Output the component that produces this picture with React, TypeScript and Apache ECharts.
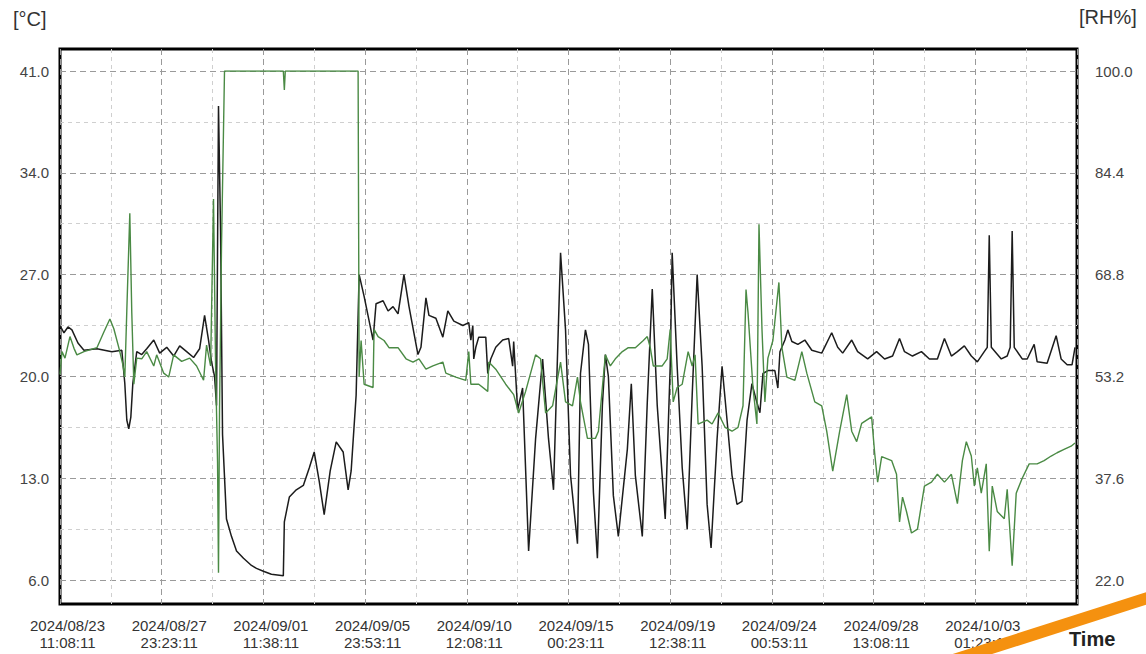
import React, { useEffect, useRef } from "react";
import * as echarts from "echarts";

// ---- data (hours elapsed since 2024/08/23 11:08:11) ----
const xTickLabels = [
  "2024/08/23\n11:08:11",
  "2024/08/27\n23:23:11",
  "2024/09/01\n11:38:11",
  "2024/09/05\n23:53:11",
  "2024/09/10\n12:08:11",
  "2024/09/15\n00:23:11",
  "2024/09/19\n12:38:11",
  "2024/09/24\n00:53:11",
  "2024/09/28\n13:08:11",
  "2024/10/03\n01:23:11",
];
const tempTicks = [6, 13, 20, 27, 34, 41];
const rhTicks = [22, 37.6, 53.2, 68.8, 84.4, 100];

const tempHours = [
  0, 4.2, 8.5, 12.7, 19.1, 25.5, 39.3, 55.2, 65.8, 69.0, 71.1, 73.2, 75.4, 77.5, 81.7, 87.0,
  92.3, 99.8, 106.1, 113.6, 121.0, 127.4, 134.8, 142.2, 148.6, 153.9, 158.1, 161.3, 164.5,
  166.6, 168.7, 170.9, 173.0, 177.2, 182.5, 187.9, 195.3, 203.8, 209.1, 216.5, 225.0, 237.7,
  238.8, 244.1, 251.5, 259.0, 265.3, 270.6, 275.9, 281.2, 287.6, 294.0, 301.4, 306.7, 309.9,
  315.2, 318.4, 323.7, 333.2, 336.4, 343.9, 349.2, 354.5, 359.8, 366.1, 371.5, 381.0, 384.2,
  389.5, 392.7, 400.1, 407.5, 412.8, 419.2, 428.8, 435.1, 437.3, 439.4, 440.4, 442.6, 445.7,
  453.2, 455.3, 458.5, 463.8, 471.2, 477.6, 481.8, 482.9, 487.1, 492.4, 498.8, 506.2, 513.7,
  520.0, 525.3, 532.8, 538.1, 543.4, 550.8, 554.0, 559.3, 562.5, 567.8, 572.0, 577.3, 580.5,
  583.7, 589.0, 594.3, 603.9, 608.1, 612.4, 619.8, 625.1, 630.4, 635.7, 644.2, 649.5, 651.6,
  656.9, 662.3, 667.6, 672.9, 678.2, 683.5, 688.8, 693.0, 699.4, 704.7, 710.0, 715.3, 720.6,
  725.9, 731.3, 736.5, 741.8, 745.0, 748.2, 753.5, 760.9, 764.1, 766.3, 771.6, 774.7, 779.0,
  785.4, 792.8, 800.2, 810.8, 821.4, 827.8, 833.1, 842.7, 849.0, 859.7, 869.2, 877.7, 886.2,
  893.6, 898.9, 907.4, 916.9, 925.4, 933.9, 941.4, 948.8, 955.2, 962.6, 970.0, 976.4, 983.8,
  987.0, 989.1, 991.3, 1001.9, 1008.2, 1011.4, 1013.5, 1015.7, 1024.2, 1029.5, 1036.9, 1040.1,
  1050.7, 1060.3, 1065.6, 1072.0, 1077.2, 1080.4,
];
const tempValues = [
  23.5, 23.0, 23.4, 23.2, 22.3, 21.8, 21.9, 21.7, 21.8, 19.5, 17.0, 16.4, 17.2, 19.5, 21.7, 21.5,
  21.9, 22.5, 21.6, 22.0, 21.4, 22.1, 21.7, 21.3, 21.9, 24.2, 22.5, 21.0, 20.0,
  18.0, 38.6, 30.0, 16.0, 10.2, 9.0, 8.0, 7.5, 7.0, 6.8, 6.6, 6.4, 6.3,
  10.0, 11.7, 12.2, 12.5, 13.7, 14.8, 12.8, 10.5, 13.5, 15.5, 14.8, 12.2, 13.5,
  18.7, 27.0, 25.5, 22.5, 25.0, 25.2, 24.5, 24.8, 24.3, 27.0, 24.8, 21.5, 22.0,
  25.4, 24.2, 24.0, 22.7, 24.5, 23.8, 23.5, 23.7, 22.5, 23.5, 21.2, 22.0, 22.7,
  22.7, 20.2, 21.2, 22.0, 22.5, 22.6, 20.7, 22.4, 17.7, 19.2, 8.0, 15.7, 21.2,
  15.7, 12.2, 28.5, 23.2, 13.2, 8.5, 20.2, 23.2, 22.2, 12.0, 7.5, 18.0, 21.5,
  20.0, 11.8, 9.0, 15.0, 19.5, 13.2, 9.0, 18.2, 26.0, 18.0, 10.2, 20.7, 28.5,
  20.7, 13.7, 9.5, 18.7, 27.0, 20.7, 11.2, 8.2, 15.7, 20.7, 17.0, 13.2, 11.2,
  11.4, 17.0, 19.5, 18.2, 17.5, 20.2, 20.4, 20.4, 19.2, 21.7, 22.5, 23.2, 22.4,
  22.2, 22.5, 21.8, 21.6, 23.0, 22.0, 21.6, 22.5, 21.7, 21.2, 21.7, 21.2, 21.4,
  22.6, 21.7, 21.4, 21.7, 21.2, 21.2, 22.6, 21.4, 21.7, 22.1, 21.4, 21.0, 21.7,
  22.0, 29.7, 22.0, 21.2, 21.4, 22.0, 30.0, 22.0, 21.2, 21.2, 22.2, 21.0,
  20.9, 22.8, 21.2, 20.8, 20.8, 22.0,
];

const rhHours = [
  0, 2.1, 5.3, 10.6, 14.9, 18.0, 25.5, 39.3, 46.7, 53.1, 57.3, 62.6, 66.9, 69.0, 71.1, 74.3,
  76.4, 78.6, 81.7, 87.0, 92.3, 99.8, 102.9, 110.4, 115.7, 121.0, 129.5, 138.0, 145.4, 152.8,
  156.0, 160.3, 163.4, 165.6, 167.7, 168.7, 169.8, 171.9, 175.1, 237.7, 238.8, 239.8, 317.3,
  318.4, 320.5, 323.7, 333.2, 334.3, 338.6, 344.9, 350.2, 359.8, 368.3, 375.7, 382.1, 389.5,
  396.9, 407.5, 410.7, 421.3, 431.9, 435.1, 437.3, 445.7, 455.3, 456.4, 463.8, 474.4, 482.9,
  488.2, 495.6, 506.2, 511.5, 516.9, 524.3, 532.8, 538.1, 545.5, 550.8, 554.0, 561.4, 569.9,
  573.1, 577.3, 580.5, 585.8, 591.1, 598.6, 604.9, 612.4, 620.9, 625.1, 628.3, 631.5, 641.0,
  646.3, 649.5, 652.7, 656.9, 662.3, 668.6, 672.9, 676.0, 679.2, 688.8, 694.1, 700.5, 707.9,
  715.3, 721.7, 727.0, 730.2, 732.3, 737.6, 741.8, 744.0, 747.2, 750.3, 753.5, 758.8, 765.2,
  768.4, 773.7, 782.2, 789.6, 794.9, 803.4, 810.8, 816.1, 822.5, 829.9, 837.4, 842.7, 848.0,
  853.3, 863.9, 867.1, 870.3, 874.6, 885.2, 890.4, 893.6, 896.8, 901.0, 906.3, 912.7, 920.1,
  927.6, 933.9, 941.4, 948.8, 955.2, 960.5, 964.7, 970.0, 973.2, 976.4, 980.6, 985.9, 989.1,
  992.3, 997.6, 1005.1, 1008.2, 1013.5, 1017.8, 1024.2, 1031.6, 1040.1, 1047.5, 1055.0,
  1061.3, 1068.7, 1076.2, 1080.4,
];
const rhValues = [
  53.5, 57.0, 56.0, 59.3, 57.5, 56.5, 57.0, 57.6, 60.0, 62.0, 60.5, 57.6, 55.0, 53.1, 63.2, 78.2,
  63.0, 52.0, 56.0, 55.9, 57.0, 54.8, 56.5, 53.7, 53.1, 56.5, 55.5, 56.0, 54.8, 52.6,
  58.0, 54.8, 80.4, 55.0, 40.0, 23.1, 48.0, 73.0, 100, 100, 97.1, 100, 100,
  53.1, 58.7, 52.0, 51.5, 60.4, 59.3, 58.7, 57.6, 57.6, 55.9, 55.4, 55.9, 54.3,
  54.8, 55.4, 53.7, 53.1, 52.6, 57.0, 52.0, 52.0, 50.9, 55.4, 54.3, 52.0, 50.4,
  47.6, 50.9, 56.5, 55.9, 47.6, 48.7, 55.4, 49.3, 48.7, 53.1, 49.3, 43.7, 43.7,
  44.8, 51.5, 56.5, 54.8, 55.9, 57.0, 57.6, 57.6, 58.7, 59.3, 57.6, 54.8, 54.8,
  55.9, 60.4, 49.3, 51.5, 52.0, 57.0, 54.8, 56.5, 45.9, 46.5, 45.9, 47.6, 45.4,
  44.8, 45.4, 48.7, 66.5, 63.0, 51.5, 45.9, 76.5, 60.4, 49.3, 56.0, 58.7, 67.6,
  57.6, 53.1, 52.6, 57.0, 53.7, 49.3, 48.7, 44.8, 38.7, 44.8, 50.4, 44.8, 43.2,
  46.0, 47.0, 41.5, 37.0, 40.9, 40.3, 38.2, 30.9, 34.7, 32.5, 29.2, 29.8, 36.4,
  37.0, 38.2, 37.0, 38.2, 33.7, 40.3, 43.2, 41.0, 36.4, 39.2, 35.3, 39.8, 26.4,
  36.4, 32.5, 31.4, 35.9, 24.2, 35.3, 37.6, 39.8, 39.8, 40.3, 41.0,
  41.5, 42.0, 42.5, 43.0,
];

const X_STEP = 108.25;
const X_MAX = 1082.5;
const FONT = "'Liberation Sans', Arial, sans-serif";

export default function App() {
  const ref = useRef<HTMLDivElement>(null);

  useEffect(() => {
    if (!ref.current) return;
    const chart = echarts.init(ref.current, null, { renderer: "svg" });
    const tempData = tempHours.map((h, i) => [h, tempValues[i]]);
    const rhData = rhHours.map((h, i) => [h, rhValues[i]]);

    chart.setOption({
      animation: false,
      backgroundColor: "#ffffff",
      grid: [
        {
          left: 60,
          top: 49,
          width: 1017,
          height: 555,
          show: true,
          borderColor: "#000000",
          borderWidth: 3,
          backgroundColor: "transparent",
          outerBoundsMode: "none",
          containLabel: false,
        },
        {
          left: 60,
          top: 71,
          width: 1017,
          height: 509,
          outerBoundsMode: "none",
          containLabel: false,
        },
      ],
      xAxis: [
        {
          type: "value",
          gridIndex: 0,
          min: 0,
          max: X_MAX,
          interval: X_STEP,
          axisLine: { show: false },
          axisTick: { show: false },
          minorTick: { show: false, splitNumber: 2 },
          splitLine: { show: true, lineStyle: { color: "#9a9a9a", type: [6, 4], width: 1 } },
          minorSplitLine: { show: true, lineStyle: { color: "#cfcfcf", type: [4, 4], width: 1 } },
          axisLabel: {
            show: true,
            showMaxLabel: false,
            margin: 13,
            color: "#333333",
            fontFamily: FONT,
            fontSize: 15,
            lineHeight: 17,
            padding: [0, 0, 0, 15],
            formatter: (v: number) => {
              const i = Math.round(v / X_STEP);
              return xTickLabels[i] ?? "";
            },
          },
        },
        {
          type: "value",
          gridIndex: 1,
          min: 0,
          max: X_MAX,
          show: false,
        },
      ],
      yAxis: [
        {
          type: "value",
          gridIndex: 0,
          min: 0,
          max: 1,
          show: false,
          splitLine: { show: false },
        },
        {
          type: "value",
          gridIndex: 1,
          position: "left",
          min: tempTicks[0],
          max: tempTicks[tempTicks.length - 1],
          interval: tempTicks[1] - tempTicks[0],
          axisLine: { show: false },
          axisTick: { show: false },
          minorTick: { show: false, splitNumber: 2 },
          splitLine: { show: true, lineStyle: { color: "#9a9a9a", type: [6, 4], width: 1 } },
          minorSplitLine: { show: true, lineStyle: { color: "#cfcfcf", type: [4, 4], width: 1 } },
          axisLabel: {
            margin: 11,
            color: "#444444",
            fontFamily: FONT,
            fontSize: 15,
            formatter: (v: number) => v.toFixed(1),
          },
        },
        {
          type: "value",
          gridIndex: 1,
          position: "right",
          min: rhTicks[0],
          max: rhTicks[rhTicks.length - 1],
          interval: 15.6,
          axisLine: { show: false },
          axisTick: { show: false },
          splitLine: { show: false },
          axisLabel: {
            margin: 18,
            color: "#444444",
            fontFamily: FONT,
            fontSize: 15,
            formatter: (v: number) => v.toFixed(1),
          },
        },
      ],
      series: [
        {
          name: "Temperature",
          type: "line",
          xAxisIndex: 1,
          yAxisIndex: 1,
          data: tempData,
          showSymbol: false,
          symbol: "none",
          lineStyle: { color: "#1c1c1c", width: 1.5 },
          itemStyle: { color: "#1c1c1c" },
        },
        {
          name: "Humidity",
          type: "line",
          xAxisIndex: 1,
          yAxisIndex: 2,
          data: rhData,
          showSymbol: false,
          symbol: "none",
          lineStyle: { color: "#4a8a44", width: 1.4 },
          itemStyle: { color: "#4a8a44" },
        },
      ],
      graphic: [
        {
          type: "text",
          left: 13,
          top: 9,
          style: { text: "[°C]", fontSize: 20, fontFamily: FONT, fill: "#333333" },
        },
        {
          type: "text",
          left: 1079,
          top: 7,
          style: { text: "[RH%]", fontSize: 20, fontFamily: FONT, fill: "#333333" },
        },
        {
          type: "text",
          left: 1069,
          top: 629,
          style: { text: "Time", fontSize: 20, fontWeight: "bold", fontFamily: FONT, fill: "#222222" },
        },
        {
          type: "line",
          z: 100,
          shape: { x1: 938, y1: 665, x2: 1154, y2: 596 },
          style: { stroke: "#F5910F", lineWidth: 12 },
        },
      ],
    });

    return () => chart.dispose();
  }, []);

  return (
    <div
      ref={ref}
      style={{ position: "fixed", left: 0, top: 0, width: 1146, height: 654, background: "#fff" }}
    />
  );
}
